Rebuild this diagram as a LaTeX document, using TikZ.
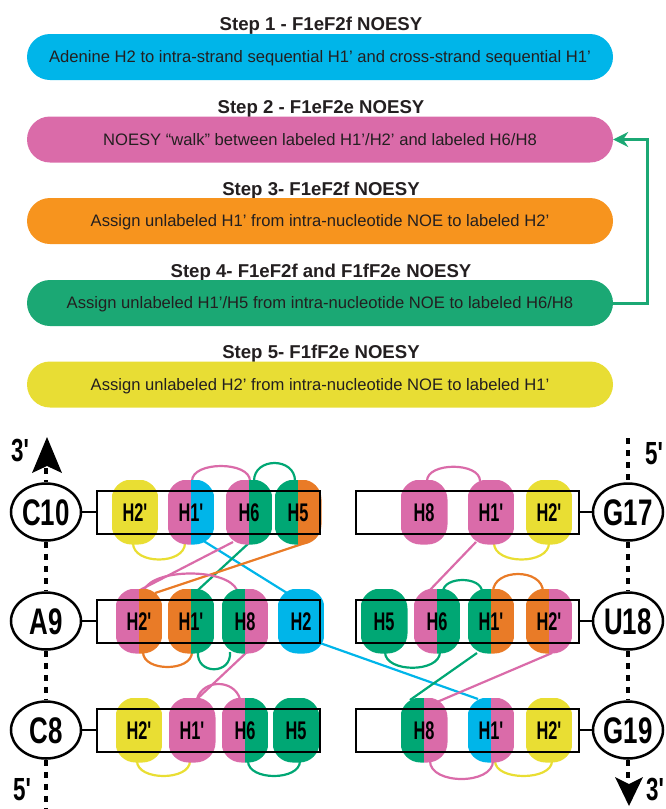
\documentclass[tikz,border=0pt]{standalone}
\usepackage{fontspec}
\setmainfont{Liberation Sans}
\newfontfamily\nb[FakeStretch=0.7]{Liberation Sans}
\newfontfamily\nbb[FakeStretch=0.64]{Liberation Sans}
\usetikzlibrary{shapes.geometric,arrows.meta}
\definecolor{cB}{HTML}{00B5E9}
\definecolor{cP}{HTML}{DA6BA9}
\definecolor{cG}{HTML}{00A774}
\definecolor{cO}{HTML}{E97B27}
\definecolor{cY}{HTML}{E9DE33}
\definecolor{pO}{HTML}{F7941E}
\definecolor{pG}{HTML}{1BA874}
\definecolor{pY}{HTML}{E8DD34}
\definecolor{txt}{HTML}{231F20}
\pgfdeclarelayer{bg}
\pgfsetlayers{bg,main}
\begin{document}
\begin{tikzpicture}[x=1pt,y=-1pt,
  steptitle/.style={anchor=base,font=\bfseries\fontsize{18.6}{20}\selectfont,text=txt,inner sep=0},
  pill/.style={rectangle,rounded corners=23pt,minimum width=586pt,minimum height=46pt,inner sep=0,
    text=txt,font=\fontsize{16.6}{18}\selectfont,text height=11.9pt,text depth=0pt},
  blob/.style 2 args={rectangle,rounded corners=20pt,minimum width=47pt,minimum height=65pt,inner sep=0,
    font=\nbb\bfseries\fontsize{25.5}{26}\selectfont,text height=18.2pt,text depth=0pt,
    path picture={\fill[#1,sharp corners] (path picture bounding box.north west) rectangle (path picture bounding box.south);
                  \fill[#2,sharp corners] (path picture bounding box.north) rectangle (path picture bounding box.south east);}},
  bx/.style={draw,line width=2pt,minimum width=223pt,minimum height=43pt,inner sep=0},
  ell/.style={ellipse,draw,line width=2.5pt,fill=white,minimum width=70pt,minimum height=57pt,inner sep=0,
    font=\nb\bfseries\fontsize{37}{38}\selectfont,text height=26.5pt,text depth=0pt},
  lnk/.style={line width=2.5pt},
  strand/.style={line width=4pt,dash pattern=on 6pt off 6pt},
  endlbl/.style={font=\nb\bfseries\fontsize{32}{32}\selectfont,inner sep=0,text height=23pt,text depth=0pt},
  con/.style={line width=2.2pt}]
\useasboundingbox (0,0) rectangle (666,809);

% ---------- steps ----------
\node[steptitle] (t1) at (321,30) {Step 1 - F1eF2f NOESY};
\node[pill,fill=cB] (p1) at (320,57) {Adenine H2 to intra-strand sequential H1' and cross-strand sequential H1'};
\node[steptitle] (t2) at (321,113) {Step 2 - F1eF2e NOESY};
\node[pill,fill=cP] (p2) at (320,139.5) {NOESY “walk” between labeled H1'/H2' and labeled H6/H8};
\node[steptitle] (t3) at (321,195) {Step 3- F1eF2f NOESY};
\node[pill,fill=pO] (p3) at (320,221) {Assign unlabeled H1' from intra-nucleotide NOE to labeled H2'};
\node[steptitle] (t4) at (321,277) {Step 4- F1eF2f and F1fF2e NOESY};
\node[pill,fill=pG] (p4) at (320,303) {Assign unlabeled H1'/H5 from intra-nucleotide NOE to labeled H6/H8};
\node[steptitle] (t5) at (321,358) {Step 5- F1fF2e NOESY};
\node[pill,fill=pY] (p5) at (320,384.5) {Assign unlabeled H2' from intra-nucleotide NOE to labeled H1'};
\draw[pG,line width=3pt,-{Stealth[length=15pt,width=15pt,inset=5pt]}] (p4.east) -- ++(34,0) |- (p2.east);

% ---------- blobs ----------
\node[blob={cY}{cY}] (c10h2p) at (135,512) {H2'};
\node[blob={cP}{cB}] (c10h1) at (191,512) {H1'};
\node[blob={cP}{cG}] (c10h6) at (249,512) {H6};
\node[blob={cG}{cO}] (c10h5) at (298,512) {H5};

\node[blob={cP}{cP}] (g17h8) at (424,512) {H8};
\node[blob={cP}{cP}] (g17h1) at (491,512) {H1'};
\node[blob={cY}{cY}] (g17h2p) at (549,512) {H2'};

\node[blob={cP}{cO}] (a9h2p) at (139,621) {H2'};
\node[blob={cO}{cG}] (a9h1) at (191,621) {H1'};
\node[blob={cG}{cP}] (a9h8) at (245,621) {H8};
\node[blob={cB}{cB}] (a9h2) at (301,621) {H2};

\node[blob={cG}{cG}] (u18h5) at (384,621) {H5};
\node[blob={cP}{cG}] (u18h6) at (437,621) {H6};
\node[blob={cG}{cO}] (u18h1) at (491,621) {H1'};
\node[blob={cO}{cP}] (u18h2p) at (549,621) {H2'};

\node[blob={cY}{cY}] (c8h2p) at (139,730) {H2'};
\node[blob={cP}{cP}] (c8h1) at (192,730) {H1'};
\node[blob={cP}{cG}] (c8h6) at (245,730) {H6};
\node[blob={cG}{cG}] (c8h5) at (296,730) {H5};

\node[blob={cG}{cP}] (g19h8) at (424,730) {H8};
\node[blob={cB}{cP}] (g19h1) at (491,730) {H1'};
\node[blob={cY}{cY}] (g19h2p) at (549,730) {H2'};

% ---------- boxes ----------
\node[bx] (bc10) at (208.5,512) {};
\node[bx] (bg17) at (467,512) {};
\node[bx] (ba9) at (208.5,621) {};
\node[bx] (bu18) at (467,621) {};
\node[bx] (bc8) at (208.5,730) {};
\node[bx] (bg19) at (467,730) {};

% ---------- residues ----------
\node[ell] (c10) at (46,512) {C10};
\node[ell] (a9) at (46,621) {A9};
\node[ell] (c8) at (46,730) {C8};
\node[ell] (g17) at (628,512) {G17};
\node[ell] (u18) at (628,621) {U18};
\node[ell] (g19) at (628,730) {G19};
\draw[lnk] (bc10.west) -- (c10.east);
\draw[lnk] (ba9.west) -- (a9.east);
\draw[lnk] (bc8.west) -- (c8.east);
\draw[lnk] (bg17.east) -- (g17.west);
\draw[lnk] (bu18.east) -- (u18.west);
\draw[lnk] (bg19.east) -- (g19.west);

% strands
\coordinate (arrL) at (46,468);
\coordinate (botL) at (46,812);
\coordinate (topR) at (628,438);
\coordinate (arrR) at (628,784);
\draw[strand] (arrL) -- (c10.north);
\draw[strand] (c10.south) -- (a9.north);
\draw[strand] (a9.south) -- (c8.north);
\draw[strand] (c8.south) -- (botL);
\draw[strand] (topR) -- (g17.north);
\draw[strand] (g17.south) -- (u18.north);
\draw[strand] (u18.south) -- (g19.north);
\draw[strand] (g19.south) -- (arrR);
\fill (47,437) -- (62,473) -- (47,466) -- (32,473) -- cycle;
\fill (629,806) -- (615,777) -- (629,784) -- (643,777) -- cycle;
\node[endlbl] (l3a) at (20,450) {3'};
\node[endlbl] (l5a) at (22,789) {5'};
\node[endlbl] (l5b) at (654,453) {5'};
\node[endlbl] (l3b) at (655,789) {3'};

% ---------- connectors ----------
\begin{pgfonlayer}{bg}
% C10 row
\draw[con,cP] ([shift={(1,-31)}]c10h1.center) .. controls +(0,-20) and +(0,-20) .. ([shift={(1,-31)}]c10h6.center);
\draw[con,cG] ([shift={(5,-31)}]c10h6.center) .. controls +(0,-24) and +(0,-24) .. ([shift={(-3,-31)}]c10h5.center);
\draw[con,cY] ([shift={(-2,31)}]c10h2p.center) .. controls +(0,22) and +(0,22) .. ([shift={(-6,31)}]c10h1.center);
% C10 -> A9
\draw[con,cB] ([shift={(11,28)}]c10h1.center) -- ([shift={(-14,-28)}]a9h2.center);
\draw[con,cP] ([shift={(-16,30)}]c10h6.center) -- ([shift={(1,-31)}]a9h2p.center);
\draw[con,cG] ([shift={(1,30)}]c10h6.center) -- ([shift={(7,-31)}]a9h1.center);
\draw[con,cO] ([shift={(10,30)}]c10h5.center) -- ([shift={(16,-28)}]a9h2p.center);
% A9 row
\draw[con,cP] ([shift={(5,-31)}]a9h2p.center) .. controls +(10,-22) and +(-10,-22) .. ([shift={(-8,-31)}]a9h8.center);
\draw[con,cO] ([shift={(4,31)}]a9h2p.center) .. controls +(0,20) and +(0,20) .. ([shift={(1,31)}]a9h1.center);
\draw[con,cG] ([shift={(7,31)}]a9h1.center) .. controls +(-2,23) and +(2,23) .. ([shift={(-15,31)}]a9h8.center);
\draw[con,cP] ([shift={(2,31)}]a9h8.center) -- ([shift={(5,-31)}]c8h1.center);
\draw[con,cB] ([shift={(19,22)}]a9h2.center) -- ([shift={(-13,-31)}]g19h1.center);
% C8 row
\draw[con,cP] ([shift={(5,-31)}]c8h1.center) .. controls +(6,-20) and +(-6,-20) .. ([shift={(-5,-31)}]c8h6.center);
\draw[con,cY] ([shift={(-2,31)}]c8h2p.center) .. controls +(0,20) and +(0,20) .. ([shift={(-2,31)}]c8h1.center);
\draw[con,cG] ([shift={(3,31)}]c8h6.center) .. controls +(0,20) and +(0,20) .. ([shift={(4,31)}]c8h5.center);
% G17 row
\draw[con,cP] ([shift={(3,-31)}]g17h8.center) .. controls +(0,-19) and +(0,-19) .. ([shift={(-11,-31)}]g17h1.center);
\draw[con,cY] ([shift={(3,31)}]g17h1.center) .. controls +(0,22) and +(0,22) .. ([shift={(0,31)}]g17h2p.center);
\draw[con,cP] ([shift={(-15,30)}]g17h1.center) -- ([shift={(-9,-29)}]u18h6.center);
% U18 row
\draw[con,cG] ([shift={(6,-29)}]u18h6.center) .. controls +(0,-16) and +(0,-16) .. ([shift={(-9,-29)}]u18h1.center);
\draw[con,cO] ([shift={(2,-29)}]u18h1.center) .. controls +(0,-24) and +(0,-24) .. ([shift={(-6,-29)}]u18h2p.center);
\draw[con,cG] ([shift={(1,31)}]u18h5.center) .. controls +(0,21) and +(0,21) .. ([shift={(3,31)}]u18h6.center);
\draw[con,cG] ([shift={(-14,32)}]u18h1.center) -- ([shift={(-14,-30)}]g19h8.center);
\draw[con,cP] ([shift={(3,32)}]u18h2p.center) -- ([shift={(13,-28)}]g19h8.center);
% G19 row
\draw[con,cP] ([shift={(6,31)}]g19h8.center) .. controls +(0,24) and +(0,24) .. ([shift={(2,31)}]g19h1.center);
\draw[con,cY] ([shift={(4,31)}]g19h1.center) .. controls +(0,20) and +(0,20) .. ([shift={(3,31)}]g19h2p.center);
\end{pgfonlayer}
\end{tikzpicture}
\end{document}
